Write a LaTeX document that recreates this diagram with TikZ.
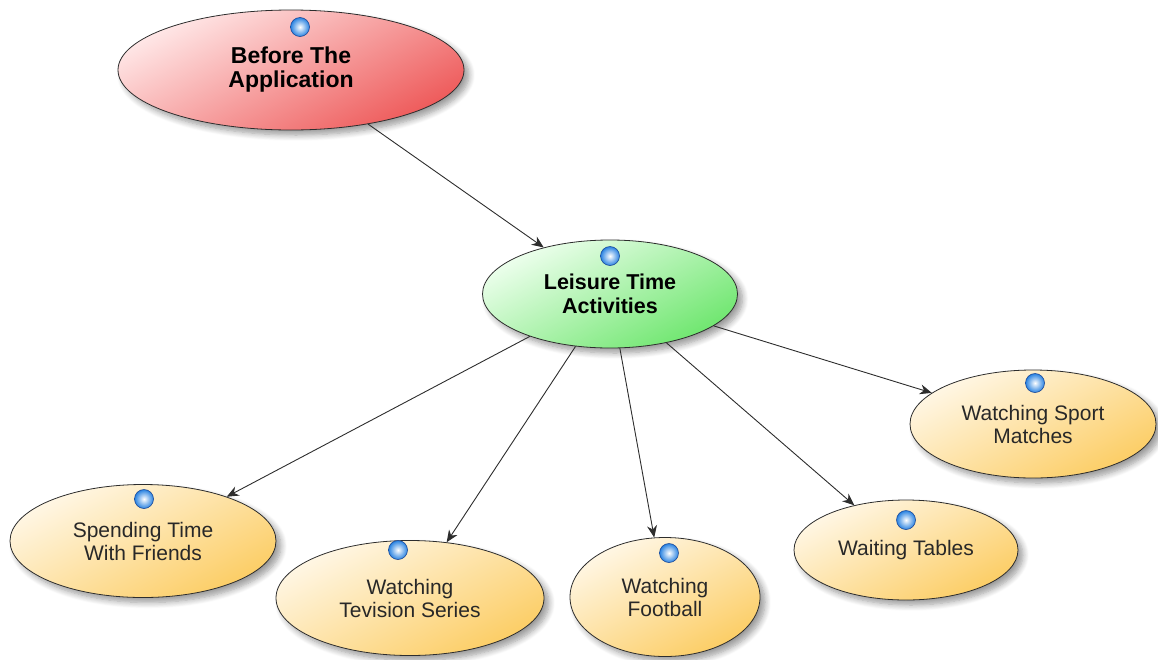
\documentclass[tikz,border=0pt]{standalone}
\usepackage{fontspec}
\setmainfont{Liberation Sans}
\usetikzlibrary{arrows.meta,shapes.geometric,shadows.blur}

\definecolor{edgegray}{RGB}{45,45,45}
\definecolor{redlight}{RGB}{255,232,232}
\definecolor{reddark}{RGB}{238,90,90}
\definecolor{greenlight}{RGB}{238,255,238}
\definecolor{greendark}{RGB}{110,230,110}
\definecolor{yellowlight}{RGB}{255,247,230}
\definecolor{yellowdark}{RGB}{252,205,100}
\definecolor{ballblue}{RGB}{40,130,225}
\definecolor{ballrim}{RGB}{25,70,150}
\definecolor{textgray}{RGB}{40,40,40}

\begin{document}
\begin{tikzpicture}[x=1pt,y=-1pt,
  topic/.style={ellipse, draw=edgegray, line width=0.8pt, inner sep=0pt,
    align=center,
    blur shadow={shadow xshift=5pt, shadow yshift=-5pt, shadow blur steps=8,
      shadow opacity=40, shadow blur radius=6pt}},
  rootnode/.style={topic, top color=redlight, bottom color=reddark,
    shading angle=28, font=\fontsize{23}{24}\selectfont\bfseries},
  hubnode/.style={topic, top color=greenlight, bottom color=greendark,
    shading angle=28, font=\fontsize{21.5}{24}\selectfont\bfseries},
  leafnode/.style={topic, top color=yellowlight, bottom color=yellowdark,
    shading angle=28, text=textgray, font=\fontsize{21}{23}\selectfont},
  ball/.style={circle, minimum size=19pt, inner sep=0pt,
    draw=ballrim, line width=0.6pt, inner color=white, outer color=ballblue},
  conn/.style={draw=edgegray, line width=0.9pt,
    -{Stealth[length=12pt,width=10pt]}}
]
\useasboundingbox (0,0) rectangle (1158,659);

% topic ellipses
\node[rootnode, minimum width=346pt, minimum height=120pt] (before) at (291,70)
  {Before The\\Application};
\node[hubnode, minimum width=255pt, minimum height=108pt] (leisure) at (610,294)
  {Leisure Time\\Activities};
\node[leafnode, minimum width=266pt, minimum height=113pt] (friends) at (143,541)
  {Spending Time\\With Friends};
\node[leafnode, minimum width=268pt, minimum height=115pt] (series) at (410,598)
  {Watching\\Tevision Series};
\node[leafnode, minimum width=190pt, minimum height=119pt] (football) at (665,597)
  {Watching\\Football};
\node[leafnode, minimum width=224pt, minimum height=100pt] (tables) at (906,550)
  {Waiting Tables};
\node[leafnode, minimum width=246pt, minimum height=108pt] (sport) at (1033,424)
  {Watching Sport\\Matches};

% marker balls
\node[ball] (b1) at (300,27) {};
\node[ball] (b2) at (610,256) {};
\node[ball] (b3) at (144,499) {};
\node[ball] (b4) at (398,550) {};
\node[ball] (b5) at (669,553) {};
\node[ball] (b6) at (906,520) {};
\node[ball] (b7) at (1035,383) {};

% connectors
\draw[conn] (before) -- (leisure);
\draw[conn] (leisure) -- (friends);
\draw[conn] (leisure) -- (series);
\draw[conn] (leisure) -- (football);
\draw[conn] (leisure) -- (tables);
\draw[conn] (leisure) -- (sport);
\end{tikzpicture}
\end{document}
